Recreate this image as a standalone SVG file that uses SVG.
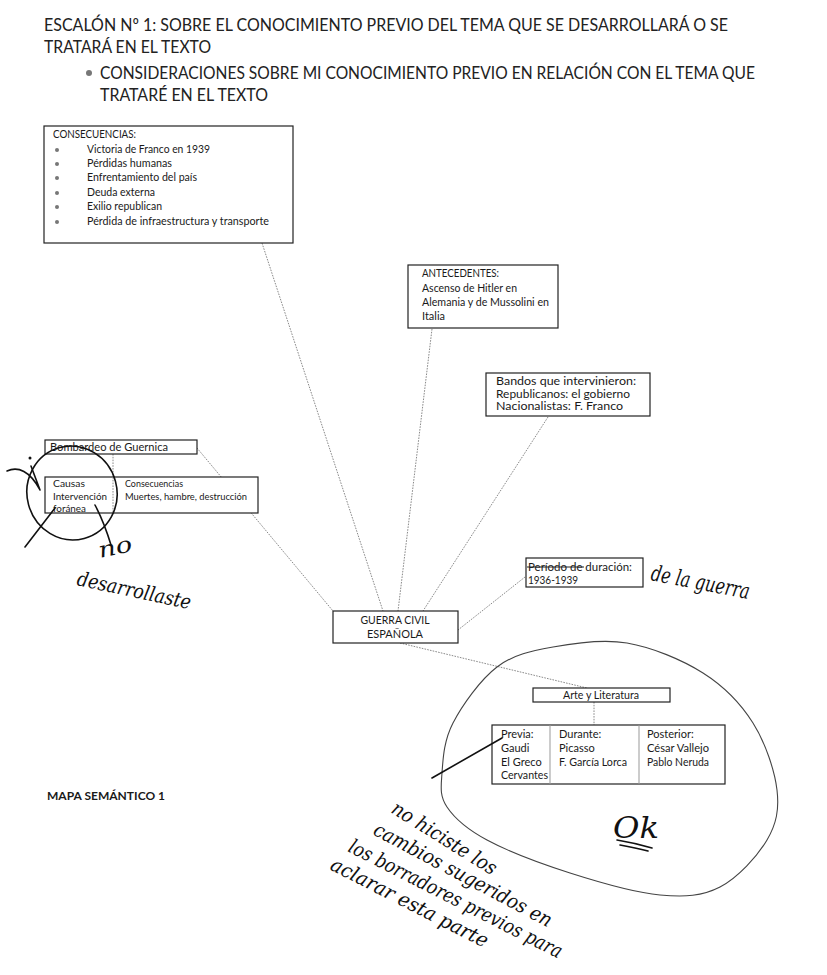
<svg xmlns="http://www.w3.org/2000/svg" width="827" height="975" viewBox="0 0 827 975">
<style>
.t{font-family:Lato,"Open Sans","Liberation Sans",sans-serif;fill:#1a1a1a}
.h{font-size:17.5px;fill:#222}
.s{font-size:11px}
.box{fill:#fff;stroke:#222;stroke-width:1.2}
.con{stroke:#8a8a8a;stroke-width:1;stroke-dasharray:1.6 1.2;fill:none}
.div{stroke:#999;stroke-width:1;fill:none}
.hw{font-family:"DejaVu Serif","Liberation Serif",serif;font-style:italic;fill:#111}
.pen{stroke:#111;stroke-width:1.6;fill:none;stroke-linecap:round}
.pencil{stroke:#444;stroke-width:1.1;fill:none}
.bul{fill:#777}
</style>
<rect width="827" height="975" fill="#fff"/>

<g id="header">
<text class="t h" x="44" y="31" textLength="684" lengthAdjust="spacingAndGlyphs">ESCALÓN Nº 1: SOBRE EL CONOCIMIENTO PREVIO DEL TEMA QUE SE DESARROLLARÁ O SE</text>
<text class="t h" x="44" y="53" textLength="167" lengthAdjust="spacingAndGlyphs">TRATARÁ EN EL TEXTO</text>
<circle class="bul" cx="89" cy="73" r="3"/>
<text class="t h" x="100" y="79" textLength="655" lengthAdjust="spacingAndGlyphs">CONSIDERACIONES SOBRE MI CONOCIMIENTO PREVIO EN RELACIÓN CON EL TEMA QUE</text>
<text class="t h" x="100" y="101" textLength="168" lengthAdjust="spacingAndGlyphs">TRATARÉ EN EL TEXTO</text>
</g>

<g id="connectors">
<line class="con" x1="262" y1="243" x2="383" y2="611"/>
<line class="con" x1="432" y1="329" x2="398" y2="611"/>
<line class="con" x1="548" y1="417" x2="423" y2="611"/>
<line class="con" x1="197" y1="448" x2="333" y2="611"/>
<line class="con" x1="525" y1="577" x2="458" y2="630"/>
<line class="con" x1="400" y1="643" x2="587" y2="688"/>
<line class="con" x1="594" y1="702" x2="594" y2="725"/>
<line class="con" x1="113" y1="454" x2="113" y2="477"/>
</g>

<g id="consecuencias">
<rect class="box" x="44" y="126" width="249" height="117"/>
<text class="t s" x="53" y="138" textLength="83" lengthAdjust="spacingAndGlyphs">CONSECUENCIAS:</text>
<circle class="bul" cx="57" cy="150" r="2"/>
<circle class="bul" cx="57" cy="164" r="2"/>
<circle class="bul" cx="57" cy="178" r="2"/>
<circle class="bul" cx="57" cy="193" r="2"/>
<circle class="bul" cx="57" cy="207" r="2"/>
<circle class="bul" cx="57" cy="222" r="2"/>
<text class="t s" x="87" y="153" textLength="123" lengthAdjust="spacingAndGlyphs">Victoria de Franco en 1939</text>
<text class="t s" x="87" y="167" textLength="85" lengthAdjust="spacingAndGlyphs">Pérdidas humanas</text>
<text class="t s" x="87" y="181" textLength="110" lengthAdjust="spacingAndGlyphs">Enfrentamiento del país</text>
<text class="t s" x="87" y="196" textLength="68" lengthAdjust="spacingAndGlyphs">Deuda externa</text>
<text class="t s" x="87" y="210" textLength="75" lengthAdjust="spacingAndGlyphs">Exilio republican</text>
<text class="t s" x="87" y="225" textLength="182" lengthAdjust="spacingAndGlyphs">Pérdida de infraestructura y transporte</text>
</g>

<g id="antecedentes">
<rect class="box" x="408" y="265" width="150" height="63"/>
<text class="t s" x="422" y="277" textLength="77" lengthAdjust="spacingAndGlyphs">ANTECEDENTES:</text>
<text class="t s" x="422" y="292" textLength="95" lengthAdjust="spacingAndGlyphs">Ascenso de Hitler en</text>
<text class="t s" x="422" y="306" textLength="127" lengthAdjust="spacingAndGlyphs">Alemania y de Mussolini en</text>
<text class="t s" x="422" y="320" textLength="23" lengthAdjust="spacingAndGlyphs">Italia</text>
</g>

<g id="bandos">
<rect class="box" x="486" y="373" width="164" height="43"/>
<text class="t s" x="496" y="385" textLength="140" lengthAdjust="spacingAndGlyphs">Bandos que intervinieron:</text>
<text class="t s" x="496" y="398" textLength="134" lengthAdjust="spacingAndGlyphs">Republicanos: el gobierno</text>
<text class="t s" x="496" y="410" textLength="127" lengthAdjust="spacingAndGlyphs">Nacionalistas: F. Franco</text>
</g>

<g id="bombardeo">
<rect class="box" x="45" y="440" width="152" height="14"/>
<text class="t s" x="50" y="451" textLength="118" lengthAdjust="spacingAndGlyphs">Bombardeo de Guernica</text>
</g>

<g id="causas">
<rect class="box" x="45" y="477" width="213" height="36"/>
<line class="con" x1="113" y1="477" x2="113" y2="513"/>
<text class="t" font-size="10" x="53" y="487" textLength="32" lengthAdjust="spacingAndGlyphs">Causas</text>
<text class="t" font-size="10" x="53" y="500" textLength="54" lengthAdjust="spacingAndGlyphs">Intervención</text>
<text class="t" font-size="10" x="53" y="512" textLength="33" lengthAdjust="spacingAndGlyphs">foránea</text>
<text class="t" font-size="10" x="125" y="487" textLength="58" lengthAdjust="spacingAndGlyphs">Consecuencias</text>
<text class="t" font-size="10" x="125" y="500" textLength="122" lengthAdjust="spacingAndGlyphs">Muertes, hambre, destrucción</text>
</g>

<g id="periodo">
<rect class="box" x="526" y="558" width="117" height="29"/>
<text class="t s" x="528" y="571" textLength="104" lengthAdjust="spacingAndGlyphs">Período de duración:</text>
<line x1="527" y1="567" x2="584" y2="567" stroke="#222" stroke-width="1"/>
<text class="t s" x="528" y="584" textLength="50" lengthAdjust="spacingAndGlyphs">1936-1939</text>
</g>

<g id="guerra">
<rect class="box" x="333" y="611" width="125" height="32"/>
<text class="t" font-size="11.5" x="395" y="624" text-anchor="middle" textLength="69" lengthAdjust="spacingAndGlyphs">GUERRA CIVIL</text>
<text class="t" font-size="11.5" x="395" y="638" text-anchor="middle" textLength="56" lengthAdjust="spacingAndGlyphs">ESPAÑOLA</text>
</g>

<g id="arte">
<rect class="box" x="533" y="688" width="137" height="14"/>
<text class="t s" x="601" y="699" text-anchor="middle" textLength="76" lengthAdjust="spacingAndGlyphs">Arte y Literatura</text>
</g>

<g id="periodos-arte">
<rect class="box" x="492" y="725" width="233" height="59"/>
<line class="div" x1="550" y1="725" x2="550" y2="784"/>
<line class="div" x1="639" y1="725" x2="639" y2="784"/>
<text class="t s" x="501" y="738">Previa:</text>
<text class="t s" x="501" y="752">Gaudi</text>
<text class="t s" x="501" y="766">El Greco</text>
<text class="t s" x="501" y="779" textLength="47" lengthAdjust="spacingAndGlyphs">Cervantes</text>
<text class="t s" x="559" y="738">Durante:</text>
<text class="t s" x="559" y="752">Picasso</text>
<text class="t s" x="559" y="766" textLength="68" lengthAdjust="spacingAndGlyphs">F. García Lorca</text>
<text class="t s" x="647" y="738">Posterior:</text>
<text class="t s" x="647" y="752" textLength="62" lengthAdjust="spacingAndGlyphs">César Vallejo</text>
<text class="t s" x="647" y="766" textLength="62" lengthAdjust="spacingAndGlyphs">Pablo Neruda</text>
</g>

<g id="mapa-label">
<text class="t" font-size="11" font-weight="bold" x="47" y="800" textLength="118" lengthAdjust="spacingAndGlyphs">MAPA SEMÁNTICO 1</text>
</g>

<g id="handwriting">
<path class="pencil" d="M627 643 C652 647.3 682 659.7 703 673 C724 686.3 740.7 703.5 753 723 C765.3 742.5 774.7 770.5 777 790 C779.3 809.5 776.5 823.8 767 840 C757.5 856.2 737.8 877.8 720 887 C702.2 896.2 685 897.3 660 895 C635 892.7 598.8 882.2 570 873 C541.2 863.8 507.5 851 487 840 C466.5 829 454.5 818.2 447 807 C439.5 795.8 441 787 442 773 C443 759 443.8 740.7 453 723 C462.2 705.3 480.3 679.7 497 667 C513.7 654.3 531.3 651 553 647 C574.7 643 602 638.7 627 643"/>
<path class="pen" d="M432 778 L502 738"/>
<text class="hw" font-size="30" x="613" y="838" textLength="46" lengthAdjust="spacingAndGlyphs">Ok</text>
<path class="pen" d="M617 840 Q635 843 652 848 M620 845 Q636 848 648 851"/>
<text class="hw" font-size="22" transform="translate(650 580) rotate(11)" textLength="100" lengthAdjust="spacingAndGlyphs">de la guerra</text>
<text class="hw" font-size="20" transform="translate(390 812) rotate(32)" textLength="120" lengthAdjust="spacingAndGlyphs">no hiciste los</text>
<text class="hw" font-size="20" transform="translate(372 834) rotate(28)" textLength="199" lengthAdjust="spacingAndGlyphs">cambios sugeridos en</text>
<text class="hw" font-size="20" transform="translate(347 851) rotate(27)" textLength="237" lengthAdjust="spacingAndGlyphs">los borradores previos para</text>
<text class="hw" font-size="20" transform="translate(329 869) rotate(27)" textLength="174" lengthAdjust="spacingAndGlyphs">aclarar esta parte</text>
<ellipse class="pen" cx="72" cy="493" rx="45" ry="47" transform="rotate(-15 72 493)"/>
<path class="pen" d="M7 471 C18 466 30 471 40 490 M31 466 L40 490"/>
<circle cx="30" cy="458" r="1.5" fill="#111"/>
<path class="pen" d="M25 547 L55 508"/>
<path class="pen" d="M95 505 Q104 522 111 545"/>
<text class="hw" font-size="22" transform="translate(100 558) rotate(-12)" textLength="34" lengthAdjust="spacingAndGlyphs">no</text>
<text class="hw" font-size="20" transform="translate(76 585) rotate(12)" textLength="116" lengthAdjust="spacingAndGlyphs">desarrollaste</text>
</g>
</svg>
